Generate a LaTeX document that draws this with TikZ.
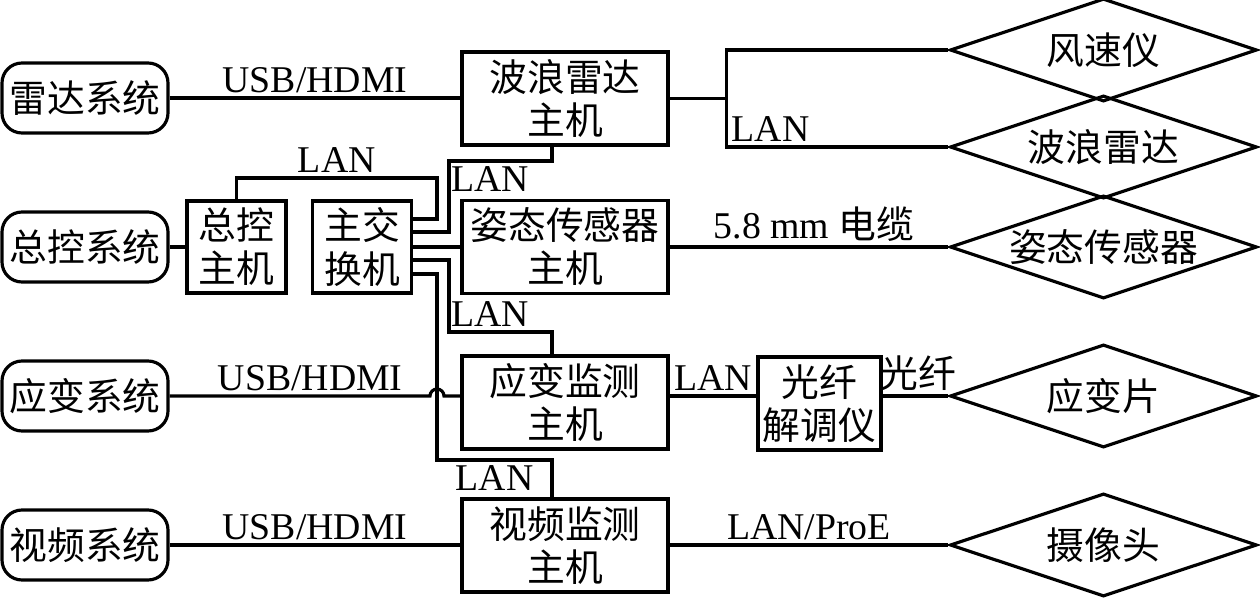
\documentclass[tikz,border=0pt]{standalone}
\usepackage{fontspec}
\setmainfont{Liberation Serif}
\newfontfamily\cjk{Noto Sans CJK SC}
\usetikzlibrary{shapes.geometric}
\newcommand{\bigtxt}{\fontsize{21.5}{24.5}\selectfont}
\tikzset{
  sysbox/.style={draw, rounded corners=0.4cm, minimum width=3.32cm,
    minimum height=1.4cm, inner sep=0pt, font=\bigtxt\cjk},
  hostbox/.style={draw, minimum width=4.12cm, minimum height=1.86cm,
    align=center, inner sep=0pt, font=\bigtxt\cjk},
  devbox/.style={draw, diamond, aspect=3, minimum width=6.14cm,
    minimum height=2.06cm, inner sep=-2pt, font=\bigtxt\cjk},
  lbl/.style={inner sep=2pt, font=\bigtxt}
}
\begin{document}
\begin{tikzpicture}[line width=1.8pt]
  \useasboundingbox (0,0) rectangle (25.2,12);
  % sistemas
  \node[sysbox] (leida) at (1.7,10.04) {雷达系统};
  \node[sysbox] (zongkong) at (1.7,7.06) {总控系统};
  \node[sysbox] (yingbian) at (1.7,4.08) {应变系统};
  \node[sysbox] (shipin) at (1.7,1.10) {视频系统};
  % hosts
  \node[hostbox] (bolangzj) at (11.3,10.03) {波浪雷达\\主机};
  \node[hostbox] (zitaizj) at (11.3,7.06) {姿态传感器\\主机};
  \node[hostbox] (yingbianzj) at (11.3,3.95) {应变监测\\主机};
  \node[hostbox] (shipinzj) at (11.3,1.09) {视频监测\\主机};
  \node[hostbox, minimum width=1.98cm, minimum height=1.84cm] (zongkongzj)
    at (4.73,7.06) {总控\\主机};
  \node[hostbox, minimum width=1.98cm, minimum height=1.84cm] (jiaohuan)
    at (7.24,7.06) {主交\\换机};
  \node[hostbox, minimum width=2.46cm] (jietiao) at (16.39,3.93) {光纤\\解调仪};
  % sensores
  \node[devbox] (fengsu) at (22.07,11.0) {风速仪};
  \node[devbox] (bolang) at (22.07,9.06) {波浪雷达};
  \node[devbox] (zitai) at (22.07,7.06) {姿态传感器};
  \node[devbox] (yingbianpian) at (22.07,4.08) {应变片};
  \node[devbox] (shexiang) at (22.07,1.10) {摄像头};
  % radar
  \draw (leida.east) -- node[lbl, above] (l1) {USB/HDMI}
    (leida.east -| bolangzj.west);
  \draw (bolangzj.east) -- ++(1.14,0) coordinate (fork);
  \draw (fengsu.west) -| (fork) |- node[lbl, pos=0.5, anchor=south west] (l2)
    {LAN} (bolang.west);
  % controle e switch
  \draw (zongkong.east) -- (zongkongzj.west);
  \draw (zongkongzj.north) |- node[lbl, pos=0.75, above] (l3) {LAN}
    (8.74,8.44) |- ([yshift=5.6mm]jiaohuan.east);
  \draw ([yshift=3mm]jiaohuan.east) -| (8.98,8.78) -| node[lbl, pos=0.2, below]
    (l4) {LAN} ([xshift=-2.6mm]bolangzj.south);
  \draw (jiaohuan.east) -- (zitaizj.west);
  \draw ([yshift=-2.6mm]jiaohuan.east) -| (8.98,5.36) -| node[lbl, pos=0.2,
    above] (l5) {LAN} ([xshift=-2.6mm]yingbianzj.north);
  \draw ([yshift=-5.4mm]jiaohuan.east) -| (8.74,2.8) -| node[lbl, pos=0.25,
    below] (l6) {LAN} ([xshift=-2.6mm]shipinzj.north);
  % atitude
  \draw (zitaizj.east) -- node[lbl, above, xshift=1mm] (l7) {5.8 mm {\cjk 电缆}}
    (zitai.west);
  % deforma\c{c}\~ao (com salto)
  \draw (yingbian.east) -- node[lbl, pos=0.54, above] (l8) {USB/HDMI}
    (8.6,4.08) arc[start angle=180, end angle=0, radius=0.14]
    -- (yingbian.east -| yingbianzj.west);
  \draw (yingbianzj.east |- yingbian.east) -- node[lbl, above] (l9) {LAN}
    (jietiao.west |- yingbian.east);
  \draw (jietiao.east |- yingbian.east) -- node[lbl, above, xshift=0.6mm] (l10)
    {\cjk 光纤} (yingbianpian.west);
  % v\'ideo
  \draw (shipin.east) -- node[lbl, above] (l11) {USB/HDMI}
    (shipin.east -| shipinzj.west);
  \draw (shipinzj.east |- shipin.east) -- node[lbl, above] (l12) {LAN/ProE}
    (shexiang.west);
\end{tikzpicture}
\end{document}
